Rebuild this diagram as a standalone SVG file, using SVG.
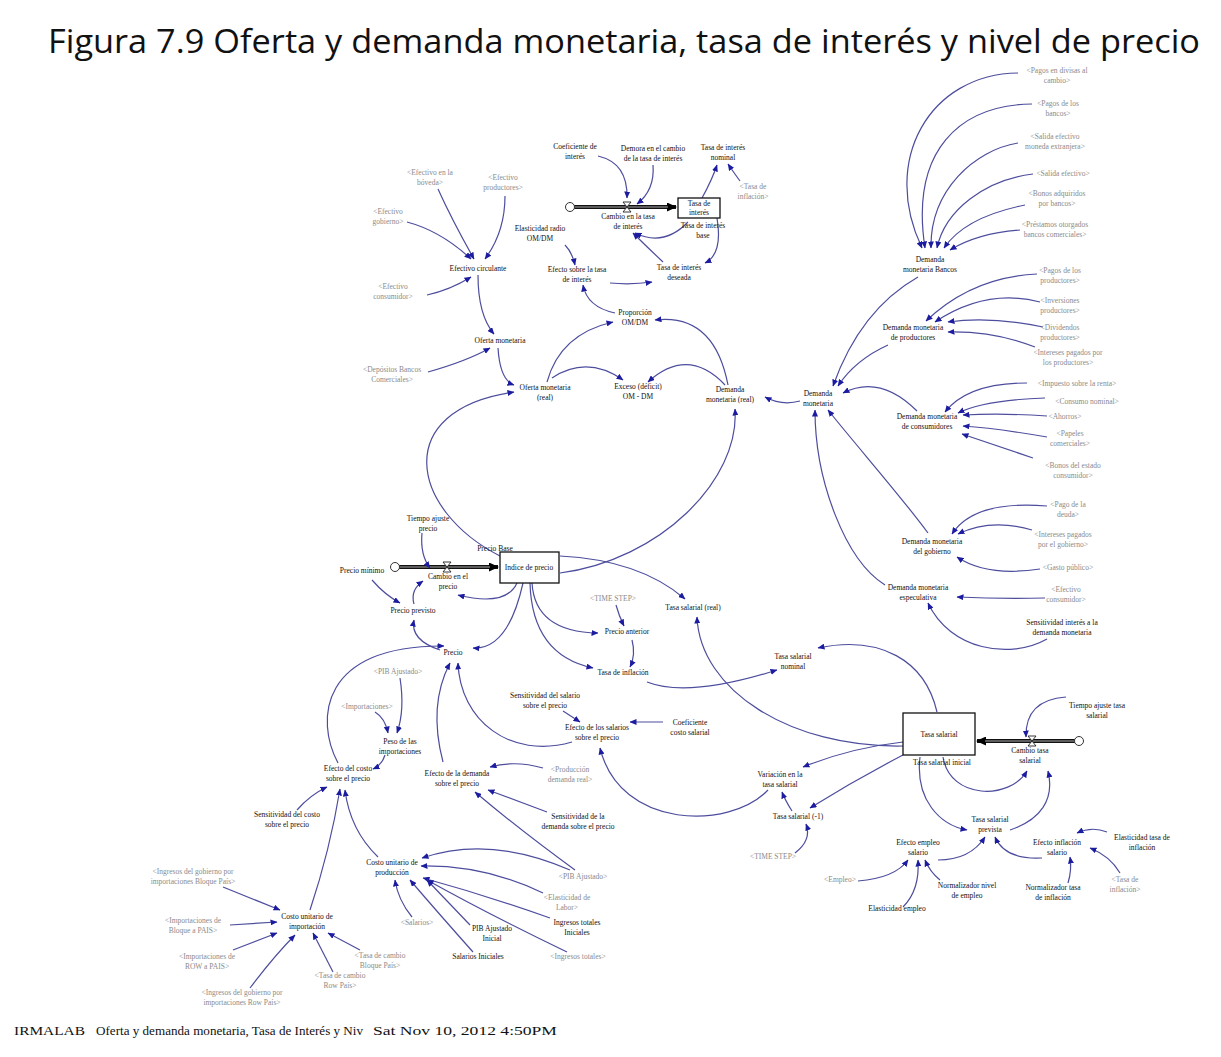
<svg xmlns="http://www.w3.org/2000/svg" width="1221" height="1057" viewBox="0 0 1221 1057">
<defs>
<marker id="a" markerWidth="7" markerHeight="6" refX="6.5" refY="3" orient="auto" markerUnits="userSpaceOnUse"><path d="M0,0 L7,3 L0,6 z" fill="#1c1ca0"/></marker>
<marker id="f" markerWidth="10" markerHeight="9" refX="9" refY="4.5" orient="auto" markerUnits="userSpaceOnUse"><path d="M0,0 L10,4.5 L0,9 z" fill="#000"/></marker>
</defs>
<style>
text{font-family:"Liberation Serif","Times New Roman",serif;font-size:7.5px;fill:#111;text-anchor:middle}
text.s{fill:#8a8a8a}
text.t{font-family:"Open Sans","Liberation Sans",sans-serif;font-size:33px;text-anchor:start;fill:#111}
text.ft{font-size:12.5px;text-anchor:start;fill:#111}
.c path{fill:none;stroke:#4d4d9e;stroke-width:1.2;marker-end:url(#a)}
.box{fill:#fff;stroke:#111;stroke-width:1.3}
.pipe{fill:none;stroke:#111;stroke-width:4}
.pipei{fill:none;stroke:#aaa;stroke-width:1}
.cloud{fill:#fff;stroke:#333;stroke-width:1}
.valve{fill:#fff;stroke:#222;stroke-width:0.9}
</style>
<rect width="1221" height="1057" fill="#fff"/>
<text class="t" x="48" y="53" textLength="1152" lengthAdjust="spacingAndGlyphs">Figura 7.9 Oferta y demanda monetaria, tasa de interés y nivel de precio</text>

<g id="flows">
<path class="pipe" d="M574,207 L676,207" marker-end="url(#f)"/><path class="pipei" d="M574,207 L668,207"/>
<circle class="cloud" cx="570" cy="207" r="4.5"/>
<path class="valve" d="M623,202 h8 l-8,10 h8 z"/>
<path class="pipe" d="M399,567 L498,567" marker-end="url(#f)"/><path class="pipei" d="M399,567 L490,567"/>
<circle class="cloud" cx="395" cy="567" r="4.5"/>
<path class="valve" d="M443,562 h8 l-8,10 h8 z"/>
<path class="pipe" d="M1075,741 L977,741" marker-end="url(#f)"/><path class="pipei" d="M1075,741 L985,741"/>
<circle class="cloud" cx="1079" cy="741" r="4.5"/>
<path class="valve" d="M1028,736 h8 l-8,10 h8 z"/>
</g>

<g id="connectors" class="c">
<path d="M438,189 Q452,220 474,259"/>
<path d="M505,196 Q505,232 485,259"/>
<path d="M407,222 Q441,231 471,259"/>
<path d="M427,295 Q450,290 471,277"/>
<path d="M478,275 Q478,315 494,334"/>
<path d="M428,372 Q467,361 490,348"/>
<path d="M498,348 Q500,380 514,385"/>
<path d="M547,382 Q560,334 613,322"/>
<path d="M552,378 Q587,355 623,380"/>
<path d="M725,385 Q688,346 648,382"/>
<path d="M728,385 Q714,313 655,320"/>
<path d="M615,313 Q587,307 583,285"/>
<path d="M565,245 Q572,252 575,265"/>
<path d="M610,283 Q631,285 652,282"/>
<path d="M663,262 Q645,245 633,233"/>
<path d="M717,218 Q723,254 705,263"/>
<path d="M688,222 Q664,247 635,233"/>
<path d="M598,156 Q628,163 627,198"/>
<path d="M653,165 Q655,190 637,204"/>
<path d="M702,198 Q712,180 717,165"/>
<path d="M740,181 Q732,170 728,164"/>
<path d="M800,401 Q782,406 765,397"/>
<path d="M918,277 Q860,310 833,386"/>
<path d="M888,345 Q855,360 838,386"/>
<path d="M917,411 Q880,374 843,393"/>
<path d="M928,533 C900,495 860,450 828,410"/>
<path d="M885,585 C845,560 815,480 815,410"/>
<path d="M1018,73 C930,74 880,160 922,248"/>
<path d="M1032,104 C960,105 910,150 925,248"/>
<path d="M1018,143 C975,150 930,190 931,248"/>
<path d="M1033,174 C985,180 945,210 937,248"/>
<path d="M1025,205 Q965,217 944,248"/>
<path d="M1020,230 Q978,233 950,250"/>
<path d="M1037,274 Q972,277 926,321"/>
<path d="M1040,302 Q986,288 935,322"/>
<path d="M1043,327 Q990,316 948,322"/>
<path d="M1035,347 Q994,331 948,332"/>
<path d="M1027,383 Q968,383 945,412"/>
<path d="M1045,398 Q984,400 958,413"/>
<path d="M1047,416 Q1003,413 963,415"/>
<path d="M1047,437 Q995,428 963,426"/>
<path d="M1033,458 Q1000,447 962,434"/>
<path d="M1047,506 Q974,500 952,534"/>
<path d="M1032,530 Q991,518 958,534"/>
<path d="M1040,569 Q987,577 957,557"/>
<path d="M1045,598 Q1000,599 957,597"/>
<path d="M1047,639 C1010,660 950,650 928,603"/>
<path d="M500,556 C410,510 390,410 514,392"/>
<path d="M560,573 C660,560 740,480 735,409"/>
<path d="M560,556 Q640,560 685,599"/>
<path d="M422,533 Q420,555 430,568"/>
<path d="M372,580 Q385,595 400,603"/>
<path d="M414,604 Q410,590 423,581"/>
<path d="M440,650 Q410,640 414,620"/>
<path d="M338,763 C315,720 320,645 444,646"/>
<path d="M443,762 Q428,705 450,663"/>
<path d="M572,742 C510,760 460,720 458,663"/>
<path d="M517,583 Q506,607 458,595"/>
<path d="M523,583 Q508,650 473,648"/>
<path d="M532,583 Q535,632 598,633"/>
<path d="M530,583 Q532,655 593,668"/>
<path d="M616,605 Q619,616 624,626"/>
<path d="M632,640 Q636,655 630,667"/>
<path d="M647,682 Q688,698 777,670"/>
<path d="M937,712 C925,660 880,635 818,648"/>
<path d="M903,746 C790,748 700,690 697,617"/>
<path d="M903,742 Q850,748 803,767"/>
<path d="M903,755 Q855,780 810,808"/>
<path d="M792,811 Q785,800 782,792"/>
<path d="M795,853 Q812,840 806,824"/>
<path d="M768,790 C730,830 620,830 600,748"/>
<path d="M663,722 L630,722"/>
<path d="M563,711 L580,722"/>
<path d="M375,712 Q385,718 388,733"/>
<path d="M400,678 Q405,710 397,733"/>
<path d="M385,755 Q382,765 373,769"/>
<path d="M297,810 Q310,795 327,787"/>
<path d="M310,910 Q330,850 340,789"/>
<path d="M378,857 Q350,830 345,790"/>
<path d="M543,768 Q515,760 490,767"/>
<path d="M547,812 L488,790"/>
<path d="M575,870 Q520,830 475,792"/>
<path d="M570,870 Q490,835 422,858"/>
<path d="M543,893 Q485,865 421,866"/>
<path d="M550,918 Q485,895 423,878"/>
<path d="M567,952 Q490,915 427,880"/>
<path d="M470,925 Q448,902 427,880"/>
<path d="M473,952 Q440,915 410,880"/>
<path d="M412,917 Q398,900 395,880"/>
<path d="M223,887 L280,910"/>
<path d="M230,925 L277,922"/>
<path d="M233,950 L277,933"/>
<path d="M250,988 Q275,955 295,935"/>
<path d="M333,972 L313,933"/>
<path d="M360,950 L328,933"/>
<path d="M1066,697 Q1025,700 1026,737"/>
<path d="M943,757 C950,800 1010,800 1027,771"/>
<path d="M920,757 C915,800 940,825 967,830"/>
<path d="M1010,830 C1040,820 1055,800 1048,771"/>
<path d="M938,860 Q970,860 985,837"/>
<path d="M1042,858 Q1005,860 995,837"/>
<path d="M1107,832 Q1092,826 1077,833"/>
<path d="M1120,873 Q1110,856 1090,848"/>
<path d="M1068,883 Q1072,870 1070,857"/>
<path d="M940,880 Q930,872 925,860"/>
<path d="M903,907 Q920,890 918,860"/>
<path d="M858,881 Q895,878 908,860"/>
</g>

<g id="coef_interes"><text x="575" y="149">Coeficiente de<tspan x="575" dy="10">interés</tspan></text></g>
<g id="demora"><text x="653" y="151">Demora en el cambio<tspan x="653" dy="10">de la tasa de interés</tspan></text></g>
<g id="tasa_interes_nominal"><text x="723" y="150">Tasa de interés<tspan x="723" dy="10">nominal</tspan></text></g>
<g id="sh_tasa_inflacion_1"><text class="s" x="753" y="189">&lt;Tasa de<tspan x="753" dy="10">inflación&gt;</tspan></text></g>
<g id="tasa_interes"><rect class="box" x="678" y="198" width="42" height="20"/><text x="699" y="206">Tasa de<tspan x="699" dy="9">interés</tspan></text></g>
<g id="cambio_tasa_interes"><text x="628" y="219">Cambio en la tasa<tspan x="628" dy="10">de interés</tspan></text></g>
<g id="tasa_interes_base"><text x="703" y="228">Tasa de interés<tspan x="703" dy="10">base</tspan></text></g>
<g id="tasa_interes_deseada"><text x="679" y="270">Tasa de interés<tspan x="679" dy="10">deseada</tspan></text></g>
<g id="elasticidad_radio"><text x="540" y="231">Elasticidad radio<tspan x="540" dy="10">OM/DM</tspan></text></g>
<g id="efecto_tasa"><text x="577" y="272">Efecto sobre la tasa<tspan x="577" dy="10">de interés</tspan></text></g>
<g id="proporcion"><text x="635" y="315">Proporción<tspan x="635" dy="10">OM/DM</tspan></text></g>
<g id="oferta_real"><text x="545" y="390">Oferta monetaria<tspan x="545" dy="10">(real)</tspan></text></g>
<g id="exceso"><text x="638" y="389">Exceso (déficit)<tspan x="638" dy="10">OM - DM</tspan></text></g>
<g id="demanda_real"><text x="730" y="392">Demanda<tspan x="730" dy="10">monetaria (real)</tspan></text></g>

<g id="sh_efectivo_boveda"><text class="s" x="430" y="175">&lt;Efectivo en la<tspan x="430" dy="10">bóveda&gt;</tspan></text></g>
<g id="sh_efectivo_productores"><text class="s" x="503" y="180">&lt;Efectivo<tspan x="503" dy="10">productores&gt;</tspan></text></g>
<g id="sh_efectivo_gobierno"><text class="s" x="388" y="214">&lt;Efectivo<tspan x="388" dy="10">gobierno&gt;</tspan></text></g>
<g id="efectivo_circulante"><text x="478" y="271">Efectivo circulante</text></g>
<g id="sh_efectivo_consumidor"><text class="s" x="393" y="289">&lt;Efectivo<tspan x="393" dy="10">consumidor&gt;</tspan></text></g>
<g id="oferta_monetaria"><text x="500" y="343">Oferta monetaria</text></g>
<g id="sh_depositos"><text class="s" x="392" y="372">&lt;Depósitos Bancos<tspan x="392" dy="10">Comerciales&gt;</tspan></text></g>

<g id="sh_pagos_divisas"><text class="s" x="1057" y="73">&lt;Pagos en divisas al<tspan x="1057" dy="10">cambio&gt;</tspan></text></g>
<g id="sh_pagos_bancos"><text class="s" x="1058" y="106">&lt;Pagos de los<tspan x="1058" dy="10">bancos&gt;</tspan></text></g>
<g id="sh_salida_ext"><text class="s" x="1055" y="139">&lt;Salida efectivo<tspan x="1055" dy="10">moneda extranjera&gt;</tspan></text></g>
<g id="sh_salida"><text class="s" x="1063" y="176">&lt;Salida efectivo&gt;</text></g>
<g id="sh_bonos_bancos"><text class="s" x="1057" y="196">&lt;Bonos adquiridos<tspan x="1057" dy="10">por bancos&gt;</tspan></text></g>
<g id="sh_prestamos"><text class="s" x="1055" y="227">&lt;Préstamos otorgados<tspan x="1055" dy="10">bancos comerciales&gt;</tspan></text></g>
<g id="dm_bancos"><text x="930" y="262">Demanda<tspan x="930" dy="10">monetaria Bancos</tspan></text></g>
<g id="sh_pagos_prod"><text class="s" x="1060" y="273">&lt;Pagos de los<tspan x="1060" dy="10">productores&gt;</tspan></text></g>
<g id="sh_inversiones"><text class="s" x="1060" y="303">&lt;Inversiones<tspan x="1060" dy="10">productores&gt;</tspan></text></g>
<g id="sh_dividendos"><text class="s" x="1060" y="330">&lt;Dividendos<tspan x="1060" dy="10">productores&gt;</tspan></text></g>
<g id="sh_intereses_prod"><text class="s" x="1068" y="355">&lt;Intereses pagados por<tspan x="1068" dy="10">los productores&gt;</tspan></text></g>
<g id="dm_productores"><text x="913" y="330">Demanda monetaria<tspan x="913" dy="10">de productores</tspan></text></g>
<g id="demanda_monetaria"><text x="818" y="396">Demanda<tspan x="818" dy="10">monetaria</tspan></text></g>
<g id="sh_impuesto"><text class="s" x="1077" y="386">&lt;Impuesto sobre la renta&gt;</text></g>
<g id="sh_consumo"><text class="s" x="1087" y="404">&lt;Consumo nominal&gt;</text></g>
<g id="sh_ahorros"><text class="s" x="1065" y="419">&lt;Ahorros&gt;</text></g>
<g id="sh_papeles"><text class="s" x="1070" y="436">&lt;Papeles<tspan x="1070" dy="10">comerciales&gt;</tspan></text></g>
<g id="sh_bonos_estado"><text class="s" x="1073" y="468">&lt;Bonos del estado<tspan x="1073" dy="10">consumidor&gt;</tspan></text></g>
<g id="dm_consumidores"><text x="927" y="419">Demanda monetaria<tspan x="927" dy="10">de consumidores</tspan></text></g>
<g id="sh_pago_deuda"><text class="s" x="1068" y="507">&lt;Pago de la<tspan x="1068" dy="10">deuda&gt;</tspan></text></g>
<g id="sh_intereses_gob"><text class="s" x="1063" y="537">&lt;Intereses pagados<tspan x="1063" dy="10">por el gobierno&gt;</tspan></text></g>
<g id="sh_gasto"><text class="s" x="1068" y="570">&lt;Gasto público&gt;</text></g>
<g id="dm_gobierno"><text x="932" y="544">Demanda monetaria<tspan x="932" dy="10">del gobierno</tspan></text></g>
<g id="dm_especulativa"><text x="918" y="590">Demanda monetaria<tspan x="918" dy="10">especulativa</tspan></text></g>
<g id="sh_efectivo_consumidor_2"><text class="s" x="1066" y="592">&lt;Efectivo<tspan x="1066" dy="10">consumidor&gt;</tspan></text></g>
<g id="sensitividad_interes"><text x="1062" y="625">Sensitividad interés a la<tspan x="1062" dy="10">demanda monetaria</tspan></text></g>

<g id="tiempo_ajuste_precio"><text x="428" y="521">Tiempo ajuste<tspan x="428" dy="10">precio</tspan></text></g>
<g id="indice_precio"><rect class="box" x="500" y="552" width="59" height="31"/><text x="529" y="570">Indice de precio</text><text x="495" y="551">Precio Base</text></g>
<g id="precio_minimo"><text x="362" y="573">Precio mínimo</text></g>
<g id="cambio_precio"><text x="448" y="579">Cambio en el<tspan x="448" dy="10">precio</tspan></text></g>
<g id="precio_previsto"><text x="413" y="613">Precio previsto</text></g>
<g id="precio"><text x="453" y="655">Precio</text></g>
<g id="sh_pib_1"><text class="s" x="398" y="674">&lt;PIB Ajustado&gt;</text></g>
<g id="sh_time_1"><text class="s" x="613" y="601">&lt;TIME STEP&gt;</text></g>
<g id="precio_anterior"><text x="627" y="634">Precio anterior</text></g>
<g id="tasa_inflacion"><text x="623" y="675">Tasa de inflación</text></g>
<g id="tasa_salarial_real"><text x="693" y="610">Tasa salarial (real)</text></g>
<g id="tasa_salarial_nominal"><text x="793" y="659">Tasa salarial<tspan x="793" dy="10">nominal</tspan></text></g>
<g id="sens_salario"><text x="545" y="698">Sensitividad del salario<tspan x="545" dy="10">sobre el precio</tspan></text></g>
<g id="efecto_salarios"><text x="597" y="730">Efecto de los salarios<tspan x="597" dy="10">sobre el precio</tspan></text></g>
<g id="coef_costo"><text x="690" y="725">Coeficiente<tspan x="690" dy="10">costo salarial</tspan></text></g>
<g id="sh_importaciones"><text class="s" x="367" y="709">&lt;Importaciones&gt;</text></g>
<g id="peso_importaciones"><text x="400" y="744">Peso de las<tspan x="400" dy="10">importaciones</tspan></text></g>
<g id="efecto_costo"><text x="348" y="771">Efecto del costo<tspan x="348" dy="10">sobre el precio</tspan></text></g>
<g id="efecto_demanda"><text x="457" y="776">Efecto de la demanda<tspan x="457" dy="10">sobre el precio</tspan></text></g>
<g id="sh_produccion"><text class="s" x="570" y="772">&lt;Producción<tspan x="570" dy="10">demanda real&gt;</tspan></text></g>
<g id="sens_demanda"><text x="578" y="819">Sensitividad de la<tspan x="578" dy="10">demanda sobre el precio</tspan></text></g>
<g id="sens_costo"><text x="287" y="817">Sensitividad del costo<tspan x="287" dy="10">sobre el precio</tspan></text></g>
<g id="sh_ingresos_bloque"><text class="s" x="193" y="874">&lt;Ingresos del gobierno por<tspan x="193" dy="10">importaciones Bloque País&gt;</tspan></text></g>
<g id="sh_imp_bloque"><text class="s" x="193" y="923">&lt;Importaciones de<tspan x="193" dy="10">Bloque a PAIS&gt;</tspan></text></g>
<g id="sh_imp_row"><text class="s" x="207" y="959">&lt;Importaciones de<tspan x="207" dy="10">ROW a PAIS&gt;</tspan></text></g>
<g id="sh_ingresos_row"><text class="s" x="242" y="995">&lt;Ingresos del gobierno por<tspan x="242" dy="10">importaciones Row País&gt;</tspan></text></g>
<g id="costo_importacion"><text x="307" y="919">Costo unitario de<tspan x="307" dy="10">importación</tspan></text></g>
<g id="sh_tc_bloque"><text class="s" x="380" y="958">&lt;Tasa de cambio<tspan x="380" dy="10">Bloque País&gt;</tspan></text></g>
<g id="sh_tc_row"><text class="s" x="340" y="978">&lt;Tasa de cambio<tspan x="340" dy="10">Row País&gt;</tspan></text></g>
<g id="costo_produccion"><text x="392" y="865">Costo unitario de<tspan x="392" dy="10">producción</tspan></text></g>
<g id="sh_salarios"><text class="s" x="417" y="925">&lt;Salarios&gt;</text></g>
<g id="pib_inicial"><text x="492" y="931">PIB Ajustado<tspan x="492" dy="10">Inicial</tspan></text></g>
<g id="salarios_iniciales"><text x="478" y="959">Salarios Iniciales</text></g>
<g id="sh_pib_2"><text class="s" x="583" y="879">&lt;PIB Ajustado&gt;</text></g>
<g id="sh_elasticidad_labor"><text class="s" x="567" y="900">&lt;Elasticidad de<tspan x="567" dy="10">Labor&gt;</tspan></text></g>
<g id="ingresos_iniciales"><text x="577" y="925">Ingresos totales<tspan x="577" dy="10">Iniciales</tspan></text></g>
<g id="sh_ingresos_totales"><text class="s" x="578" y="959">&lt;Ingresos totales&gt;</text></g>

<g id="tiempo_ajuste_tasa"><text x="1097" y="708">Tiempo ajuste tasa<tspan x="1097" dy="10">salarial</tspan></text></g>
<g id="tasa_salarial"><rect class="box" x="903" y="713" width="72" height="42"/><text x="939" y="737">Tasa salarial</text></g>
<g id="cambio_tasa_salarial"><text x="1030" y="753">Cambio tasa<tspan x="1030" dy="10">salarial</tspan></text></g>
<g id="tasa_salarial_inicial"><text x="942" y="765">Tasa salarial inicial</text></g>
<g id="tasa_salarial_prevista"><text x="990" y="822">Tasa salarial<tspan x="990" dy="10">prevista</tspan></text></g>
<g id="efecto_empleo"><text x="918" y="845">Efecto empleo<tspan x="918" dy="10">salario</tspan></text></g>
<g id="efecto_inflacion"><text x="1057" y="845">Efecto inflación<tspan x="1057" dy="10">salario</tspan></text></g>
<g id="elasticidad_tasa_inf"><text x="1142" y="840">Elasticidad tasa de<tspan x="1142" dy="10">inflación</tspan></text></g>
<g id="sh_tasa_inflacion_2"><text class="s" x="1125" y="882">&lt;Tasa de<tspan x="1125" dy="10">inflación&gt;</tspan></text></g>
<g id="normalizador_nivel"><text x="967" y="888">Normalizador nivel<tspan x="967" dy="10">de empleo</tspan></text></g>
<g id="normalizador_tasa"><text x="1053" y="890">Normalizador tasa<tspan x="1053" dy="10">de inflación</tspan></text></g>
<g id="elasticidad_empleo"><text x="897" y="911">Elasticidad empleo</text></g>
<g id="sh_empleo"><text class="s" x="840" y="882">&lt;Empleo&gt;</text></g>
<g id="variacion_tasa"><text x="780" y="777">Variación en la<tspan x="780" dy="10">tasa salarial</tspan></text></g>
<g id="tasa_salarial_menos1"><text x="798" y="819">Tasa salarial (-1)</text></g>
<g id="sh_time_2"><text class="s" x="773" y="859">&lt;TIME STEP&gt;</text></g>

<g id="footer"><text class="ft" x="14" y="1035" textLength="71" lengthAdjust="spacingAndGlyphs">IRMALAB</text><text class="ft" x="96" y="1035" textLength="267" lengthAdjust="spacingAndGlyphs">Oferta y demanda monetaria, Tasa de Interés y Niv</text><text class="ft" x="373" y="1035" textLength="184" lengthAdjust="spacingAndGlyphs">Sat Nov 10, 2012 4:50PM</text></g>
</svg>
